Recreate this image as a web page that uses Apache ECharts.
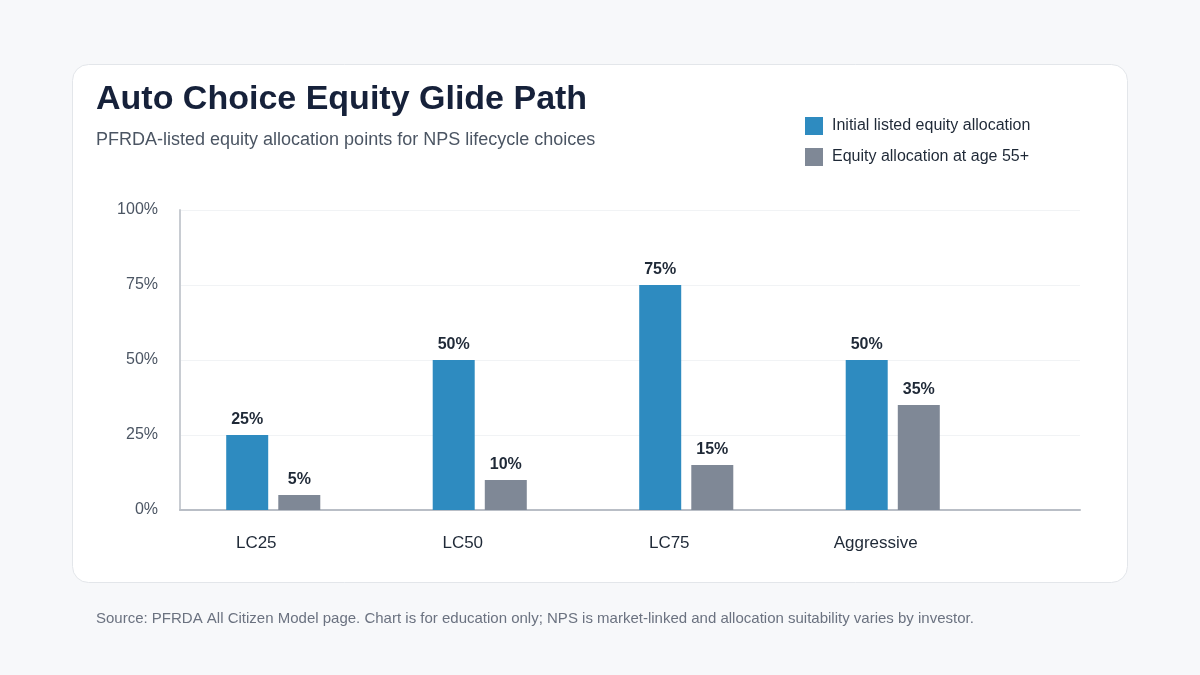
<!DOCTYPE html>
<html>
<head>
<meta charset="utf-8">
<script src="https://cdn.jsdelivr.net/npm/echarts@6/dist/echarts.min.js"></script>
<style>
  html, body { margin: 0; padding: 0; background: #f7f8fa; }
  #chart { width: 1200px; height: 675px; }
</style>
</head>
<body>
<div id="chart"></div>
<script>
// chart data
const categories = ['LC25', 'LC50', 'LC75', 'Aggressive'];
const initialEquity = [25, 50, 75, 50];
const equityAt55 = [5, 10, 15, 35];
const seriesNames = ['Initial listed equity allocation', 'Equity allocation at age 55+'];
const yTicks = [0, 25, 50, 75, 100];

const font = '"Liberation Sans", Arial, Helvetica, sans-serif';
const chart = echarts.init(document.getElementById('chart'));

const option = {
  backgroundColor: '#f7f8fa',
  textStyle: { fontFamily: font },
  graphic: [
    {
      type: 'rect',
      shape: { x: 72.5, y: 64.5, width: 1055, height: 518, r: 16 },
      style: { fill: '#ffffff', stroke: '#e3e6ea', lineWidth: 1 },
      z: -10
    },
    {
      type: 'text', left: 96, top: 83,
      style: { text: 'Auto Choice Equity Glide Path', font: 'bold 34px ' + font, fill: '#16213a' }
    },
    {
      type: 'text', left: 96, top: 131,
      style: { text: 'PFRDA-listed equity allocation points for NPS lifecycle choices', font: '18px ' + font, fill: '#4b5563' }
    },
    {
      type: 'text', left: 96, top: 611,
      style: { text: 'Source: PFRDA All Citizen Model page. Chart is for education only; NPS is market-linked and allocation suitability varies by investor.', font: '15px ' + font, fill: '#6b7280' }
    }
  ],
  legend: {
    orient: 'vertical',
    left: 805,
    top: 117,
    padding: 0,
    itemWidth: 18,
    itemHeight: 18,
    itemGap: 13,
    icon: 'rect',
    textStyle: { fontSize: 16, color: '#1f2937', padding: [0, 0, 0, 4] },
    data: seriesNames
  },
  grid: [
    { left: 180, top: 210, width: 900, height: 300 },
    { left: 170, top: 210, width: 826, height: 300 }
  ],
  xAxis: [
    {
      gridIndex: 0,
      type: 'category',
      data: categories,
      axisLine: { lineStyle: { color: '#b9bec6', width: 2 } },
      axisTick: { show: false },
      axisLabel: { show: false }
    },
    {
      gridIndex: 1,
      type: 'category',
      data: categories,
      axisLine: { show: false },
      axisTick: { show: false },
      axisLabel: {
        margin: 25,
        fontSize: 17,
        color: '#1f2937',
        padding: [0, 34, 0, 0]
      }
    }
  ],
  yAxis: [
    {
      gridIndex: 0,
      type: 'value',
      min: 0,
      max: 100,
      interval: 25,
      axisLine: { show: true, lineStyle: { color: '#c8ccd2', width: 2 } },
      axisTick: { show: false },
      splitLine: { lineStyle: { color: '#f1f3f5', width: 1 } },
      axisLabel: {
        margin: 22,
        fontSize: 16,
        color: '#4b5563',
        formatter: v => (yTicks.includes(v) ? v + '%' : '')
      }
    },
    {
      gridIndex: 1,
      type: 'value',
      min: 0,
      max: 100,
      interval: 25,
      show: false
    }
  ],
  series: [
    {
      name: seriesNames[0],
      type: 'bar',
      xAxisIndex: 1,
      yAxisIndex: 1,
      data: initialEquity,
      barWidth: 42,
      barGap: '24%',
      itemStyle: { color: '#2e8bc0' },
      label: {
        show: true, position: 'top', distance: 7,
        formatter: '{c}%', fontSize: 16, fontWeight: 'bold', color: '#1f2937'
      }
    },
    {
      name: seriesNames[1],
      type: 'bar',
      xAxisIndex: 1,
      yAxisIndex: 1,
      data: equityAt55,
      barWidth: 42,
      barGap: '24%',
      itemStyle: { color: '#7f8896' },
      label: {
        show: true, position: 'top', distance: 7,
        formatter: '{c}%', fontSize: 16, fontWeight: 'bold', color: '#1f2937'
      }
    }
  ]
};

chart.setOption(option);
</script>
</body>
</html>
